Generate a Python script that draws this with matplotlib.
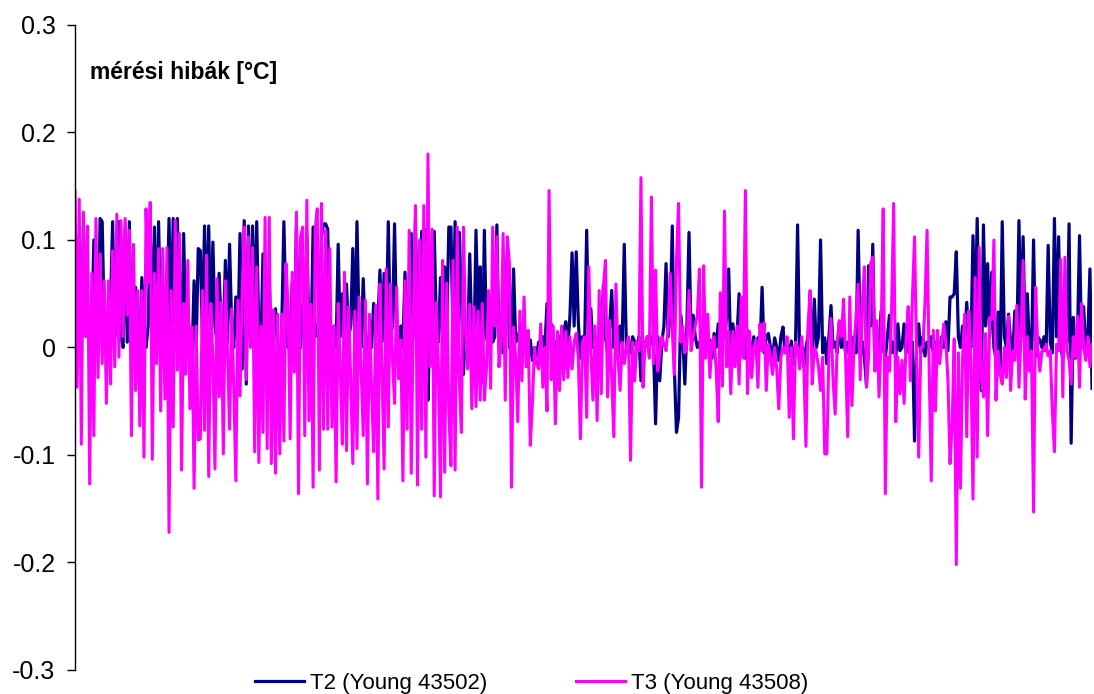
import numpy as np
import matplotlib
matplotlib.use('Agg')
import matplotlib.pyplot as plt

plt.rcParams['font.family'] = ['Liberation Sans', 'DejaVu Sans']

# values, in 1/1000 degC, left to right in 8 chunks
t2_a = [34, 5, 103, 10, 112, 40, 10, 20, 5, 100, 30, 10, 120, 117, 20, 5, 15, 40, 117, 10,
        30, 117, 10, 0, 112, 5, 117, 10, -5, 56, 10, 0, 65, 10, 0, 20, 109, 10, 112, 5,
        117, 20, -5, 15, 30, 120, 10, 120, 20, 120, 10, 0, 106, 10, 34, 5, -10, 62, 0, 92]
t2_b = [90, 10, 113, 20, 113, 10, 98, 20, 5, 69, 20, 10, 81, 5, 96, 20, 0, 47, 10, 106,
        -20, 118, -34, 113, 10, 113, 20, 117, 10, 0, 87, 10, 20, 66, -12, 10, 36, 0, -31, 20,
        117, 30, 0, 10, 61, 5, 112, 10, 0, 41, 5, 104, 10, 0, 112, 10, 20, 5, 103, 115]
t2_c = [115, 110, 10, 5, 20, 0, 96, 10, 50, 5, 59, 10, 20, 92, 5, 117, 20, 0, 64, 10,
        -5, 16, 0, 41, 10, 20, 72, 5, 69, 10, 117, 10, 20, 115, 10, -10, 20, 0, 70, 10,
        20, 106, 10, 117, 20, 5, 108, 20, 110, -49, 30, 10, 108, 20, 5, 65, 10, 75, 20, 112]
t2_d = [112, 10, 117, -23, 107, 47, -25, 20, 0, 87, 10, -5, 109, 20, 75, -32, 109, 10, 0, 34,
        5, 10, 114, 0, 10, -5, 20, 92, 0, 10, 73, 5, 10, 16, 0, 5, -5, -10, 7, -12,
        0, -8, 5, -5, 10, 0, 41, 10, 22, 0, 5, -10, 10, 0, 15, 24, 0, 30, 88, 20]
t2_e = [89, 24, -10, 10, 0, 109, 5, 36, 0, 10, -5, 15, 5, 58, 10, -5, 20, 53, 0, 10,
        -10, 20, 5, 96, 0, 5, -5, 10, 5, 0, 10, -31, 5, 0, 10, 5, 10, 0, -71, 10,
        -31, 5, 20, 78, 10, 30, 113, -20, -79, -65, 30, 10, -34, 20, 107, 10, 30, 10, 0, 5]
t2_f = [0, -5, 5, -3, 7, -10, 13, 0, 22, -5, 22, 10, 28, 73, -8, 22, 0, 10, 50, -5,
        13, -10, 16, 5, -3, 10, -5, 9, 0, 56, -5, 10, 13, 0, -10, 9, 0, -12, 10, 19,
        -5, 3, -8, 6, -15, 0, 114, -10, -3, -18, 0, 10, 41, -5, 45, 0, 10, 100, -5, 9]
t2_g = [-15, 10, 39, 0, 5, -5, 24, 0, 10, -5, 5, -10, 3, 10, -5, 109, 10, 5, -10, -35,
        76, 20, 96, -20, 10, -5, 34, 0, -10, 10, 30, -5, 5, -10, 22, -3, 0, 22, -5, 34,
        0, 5, -87, 0, 22, -5, 10, -8, 5, 0, 10, -5, 5, 0, -5, 10, 0, 24, -3, 47]
t2_h = [47, 50, 89, 10, 0, 20, 5, 42, 10, 0, 104, 10, 120, 20, -40, 114, 20, 78, 10, 70,
        0, -10, 33, -20, 117, 10, 0, 31, 5, -10, 34, 5, 118, 10, 103, 5, 50, 0, -10, 100,
        -8, 10, 7, 0, 10, -3, 95, 5, -5, 120, 10, 103, 0, -10, 25, 5, 115, -89, 28, -10,
        5, 104, 0, 38, -5, 10, 73, -38]

t3_a = [146, -37, 138, -90, 126, 10, 113, -127, 69, -82, 120, -28, 87, -15, 62, -52, 62, -34, 90, -18,
        124, -9, 118, 10, 120, 30, 109, -82, 96, -40, 53, -73, 53, -102, 129, 60, 135, -104, 69, -15,
        92, -59, 92, -48, 93, -172, 53, -74, 118, -21, 106, -114, 41, -25, 81, -57, 19, -131, 20, -86]
t3_b = [-85, 53, -77, 86, -120, 41, -10, -113, 64, -46, 42, -99, 62, -3, -76, 36, -37, -124, 44, -45,
        47, 112, -30, 103, 0, 93, -97, 75, -107, 20, -79, 121, -94, 121, -108, 35, -117, 31, -99, 31,
        -87, 78, 40, -85, 70, -23, 126, -136, 103, 112, -82, 137, -68, 40, -130, 110, 129, -114, 134, -76]
t3_c = [109, -76, 92, -74, 20, -125, 41, -20, -90, 70, -96, 38, -30, -108, 34, -94, 47, -20, -82, 44,
        -127, 31, -40, -97, 39, -141, 59, -20, -113, 73, -74, 59, -10, -52, 56, -29, 7, -124, 62, -76,
        109, -117, 30, 132, -128, 100, -76, 132, -102, 180, -18, 110, -138, 42, -20, -139, 81, -116, 60, -60]
t3_d = [-110, 81, -114, 112, -30, -79, 112, 16, -20, 40, -57, 38, -55, 34, -49, 41, -49, -20, 53, -38,
        112, 20, 103, -18, 5, 106, -49, 103, 78, -130, 19, -10, -69, 34, -31, 47, -18, 16, -91, -52,
        0, -15, -20, 22, -37, 0, -59, 146, -30, 20, -71, 15, -40, 20, -30, 15, -28, 10, -20, 5]
t3_e = [13, -10, -85, 5, 10, -65, 75, -5, -49, 20, -68, 53, -43, 56, 81, -46, 25, -30, -83, 59,
        -10, -40, 5, -15, 0, 10, -105, 5, -31, 5, -3, 158, -37, 5, 10, -10, 140, -15, 72, -22,
        -7, 10, 3, -3, 20, 69, 15, -25, 81, 134, 5, 20, -5, 3, 53, -3, 10, 20, 30, 73]
t3_f = [-130, 76, -10, 31, -28, 5, 10, -20, -69, 51, -36, 127, -18, 15, -43, 15, -18, 20, -34, 47,
        -10, 146, -43, 15, -28, 0, 7, -37, 22, -3, 23, -40, 3, -9, -25, 0, -20, -57, -9, 0,
        -5, 10, -65, 0, -85, 5, 0, -20, 10, -18, -92, 20, 53, -34, 0, -5, -18, -40, -9, -99]
t3_g = [-99, -5, 27, -31, -62, 5, 25, 10, 45, -10, -83, 47, -54, 0, 30, 59, -30, 41, 75, -37,
        -9, 78, 84, -22, 25, -46, 10, 129, -136, -9, -22, 34, 134, -69, -9, -43, -12, -52, 7, 38,
        -31, 47, 103, -9, -102, 0, 0, 41, 109, -18, -124, 16, -59, 16, -15, 3, 22, 5, -30, -108]
t3_h = [-74, 8, -202, -5, -131, -10, 31, -83, 34, -15, -141, 65, -102, 93, -28, -46, 13, -82, 28, 26,
        100, -49, -3, -25, -34, 0, -28, 29, -40, -3, -12, 39, -37, 10, 81, -48, 10, -22, -3, -153,
        56, 0, -22, -3, -3, 3, -8, -3, -60, -97, 3, -3, 82, -46, 84, -3, -12, -34, 10, -9,
        29, -37, 41, 0, -12, 10, -18, 3]

labels = ['T2 (Young 43502)', 'T3 (Young 43508)']
yticks = [-0.3, -0.2, -0.1, 0, 0.1, 0.2, 0.3]
ytick_labels = ['-0.3', '-0.2', '-0.1', '0', '0.1', '0.2', '0.3']

t2 = np.array(t2_a + t2_b + t2_c + t2_d + t2_e + t2_f + t2_g + t2_h) / 1000.0
t3 = np.array(t3_a + t3_b + t3_c + t3_d + t3_e + t3_f + t3_g + t3_h) / 1000.0
x = np.arange(len(t2))

fig = plt.figure(figsize=(10.94, 6.94), dpi=100)
ax = fig.add_axes([0.0686, 0.0346, 0.9296, 0.9294])

ax.plot(x, t2, color='#000080', lw=2.3, label=labels[0])
ax.plot(np.arange(len(t3)), t3, color='#FF00FF', lw=2.2, label=labels[1])

ax.set_xlim(0, len(t2) - 1)
ax.set_ylim(-0.3, 0.3)
ax.set_yticks(yticks)
ax.set_yticklabels(ytick_labels, fontsize=18)
ax.set_xticks([])
for s in ['top', 'right', 'bottom']:
    ax.spines[s].set_visible(False)
ax.spines['left'].set_linewidth(1.0)
ax.tick_params(axis='y', direction='out', length=6, width=1.0, pad=8)

ax.text(0.0147, 0.927, 'mérési hibák [°C]', transform=ax.transAxes,
        fontsize=16.5, fontweight='bold', va='center', ha='left')

fig.legend(loc='center', bbox_to_anchor=(532 / 1094, 1 - 683 / 694), ncol=2,
           frameon=False, fontsize=16, handlelength=2.2, handletextpad=0.27,
           columnspacing=4.0)

fig.savefig('out.png', dpi=100)
